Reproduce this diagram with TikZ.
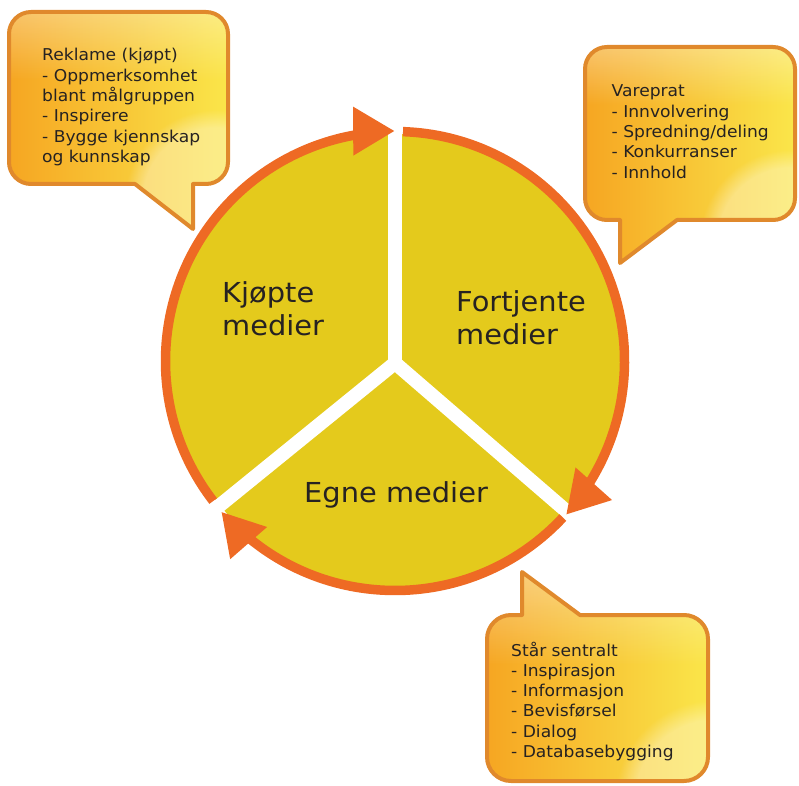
\documentclass[tikz,border=0pt]{standalone}
\usepackage{fontspec}
\setmainfont{DejaVu Sans}[FakeStretch=1.05]
\usetikzlibrary{calc,fadings}

\definecolor{disc}{RGB}{228,202,28}
\definecolor{ring}{RGB}{238,106,36}
\definecolor{bubbleedge}{RGB}{224,137,44}
\definecolor{bubbleA}{RGB}{246,166,34}
\definecolor{bubbleB}{RGB}{250,230,74}
\definecolor{ink}{RGB}{38,34,34}

% speech bubble outlines (border centre lines)
\newcommand{\reklamepath}{(31,773) -- (206,773) arc[start angle=90,end angle=0,radius=22pt]
  -- (228,623) arc[start angle=0,end angle=-90,radius=22pt]
  -- (193,601) -- (193,556) -- (135,601)
  -- (31,601) arc[start angle=270,end angle=180,radius=22pt]
  -- (9,751) arc[start angle=180,end angle=90,radius=22pt] -- cycle}
\newcommand{\vareprathpath}{(607,738) -- (773,738) arc[start angle=90,end angle=0,radius=22pt]
  -- (795,587) arc[start angle=0,end angle=-90,radius=22pt]
  -- (677,565) -- (620,522) -- (620,565)
  -- (607,565) arc[start angle=270,end angle=180,radius=22pt]
  -- (585,716) arc[start angle=180,end angle=90,radius=22pt] -- cycle}
\newcommand{\staarpath}{(511,170) -- (522,170) -- (522,213) -- (580,170)
  -- (684,170) arc[start angle=90,end angle=0,radius=24pt]
  -- (708,28) arc[start angle=0,end angle=-90,radius=24pt]
  -- (511,4) arc[start angle=270,end angle=180,radius=24pt]
  -- (487,146) arc[start angle=180,end angle=90,radius=24pt] -- cycle}

\tikzset{
  divider/.style={white, line width=14pt},
  ringarc/.style={ring, line width=9.5pt},
  bubbleline/.style={draw=bubbleedge, line width=4pt, line join=round},
  bubbletext/.style={anchor=base west, inner sep=0pt, text=ink,
    font=\fontsize{16.3}{20.3}\selectfont},
  bigtext/.style={anchor=base west, inner sep=0pt, text=ink,
    font=\fontsize{27.5}{33}\selectfont},
}

% one speech bubble: shading, gloss, border
\newcommand{\bubble}[3]{%
  \shade[left color=bubbleA, right color=bubbleB] #1;
  \begin{scope}
    \clip #1;
    \fill[white, opacity=0.4, path fading=south] #2;
    \fill[white, opacity=0.35, path fading=circle with fuzzy edge 20 percent] #3;
  \end{scope}
  \path[bubbleline] #1;
}

\begin{document}
\begin{tikzpicture}[x=1pt,y=1pt]
\useasboundingbox (0,0) rectangle (799,785);

% the wheel
\coordinate (C) at (395,424);
\coordinate (J) at (395,422);
\coordinate (Dtop) at (395,672);
\coordinate (Dleft) at (203,266);
\coordinate (Dright) at (579,263);

\fill[disc] (C) circle[radius=227pt];
\draw[divider] (J) -- (Dtop);
\draw[divider, line join=miter] (Dleft) -- (J) -- (Dright);

% ring arcs running clockwise
\draw[ringarc] ($(C)+(217.6:229.5)$) arc[start angle=217.6, end angle=95, radius=229.5pt];
\draw[ringarc] ($(C)+(88:229.5)$) arc[start angle=88, end angle=-35, radius=229.5pt];
\draw[ringarc] ($(C)+(-43:229.5)$) arc[start angle=-43, end angle=-132, radius=229.5pt];

% arrowheads
\begin{scope}[shift={(C)}, rotate=90.2]
  \fill[ring] (230,0) -- (205.5,41) -- (254.5,41) -- cycle;
\end{scope}
\begin{scope}[shift={(C)}, rotate=-41.8]
  \fill[ring] (230,0) -- (205.5,41) -- (254.5,41) -- cycle;
\end{scope}
\begin{scope}[shift={(C)}, rotate=221.1]
  \fill[ring] (230,0) -- (205.5,41) -- (254.5,41) -- cycle;
\end{scope}

\node[bigtext] (kjopte) at (222,482) {\begin{tabular}[t]{@{}l@{}}Kjøpte\\medier\end{tabular}};
\node[bigtext] (fortjente) at (456,473) {\begin{tabular}[t]{@{}l@{}}Fortjente\\medier\end{tabular}};
\node[bigtext] (egne) at (304,283) {Egne medier};

% speech bubbles
\bubble{\reklamepath}{(0,705) rectangle (240,790)}{(215,585) circle[radius=90pt]}
\bubble{\vareprathpath}{(575,680) rectangle (799,750)}{(790,545) circle[radius=90pt]}
\bubble{\staarpath}{(480,120) rectangle (720,215)}{(715,-15) circle[radius=100pt]}

\node[bubbletext] (reklame) at (42,724) {\begin{tabular}[t]{@{}l@{}}Reklame (kjøpt)\\- Oppmerksomhet\\blant målgruppen\\- Inspirere\\- Bygge kjennskap\\og kunnskap\end{tabular}};
\node[bubbletext] (vareprat) at (611.5,688) {\begin{tabular}[t]{@{}l@{}}Vareprat\\- Innvolvering\\- Spredning/deling\\- Konkurranser\\- Innhold\end{tabular}};
\node[bubbletext] (staar) at (511,129) {\begin{tabular}[t]{@{}l@{}}Står sentralt\\- Inspirasjon\\- Informasjon\\- Bevisførsel\\- Dialog\\- Databasebygging\end{tabular}};
\end{tikzpicture}
\end{document}
